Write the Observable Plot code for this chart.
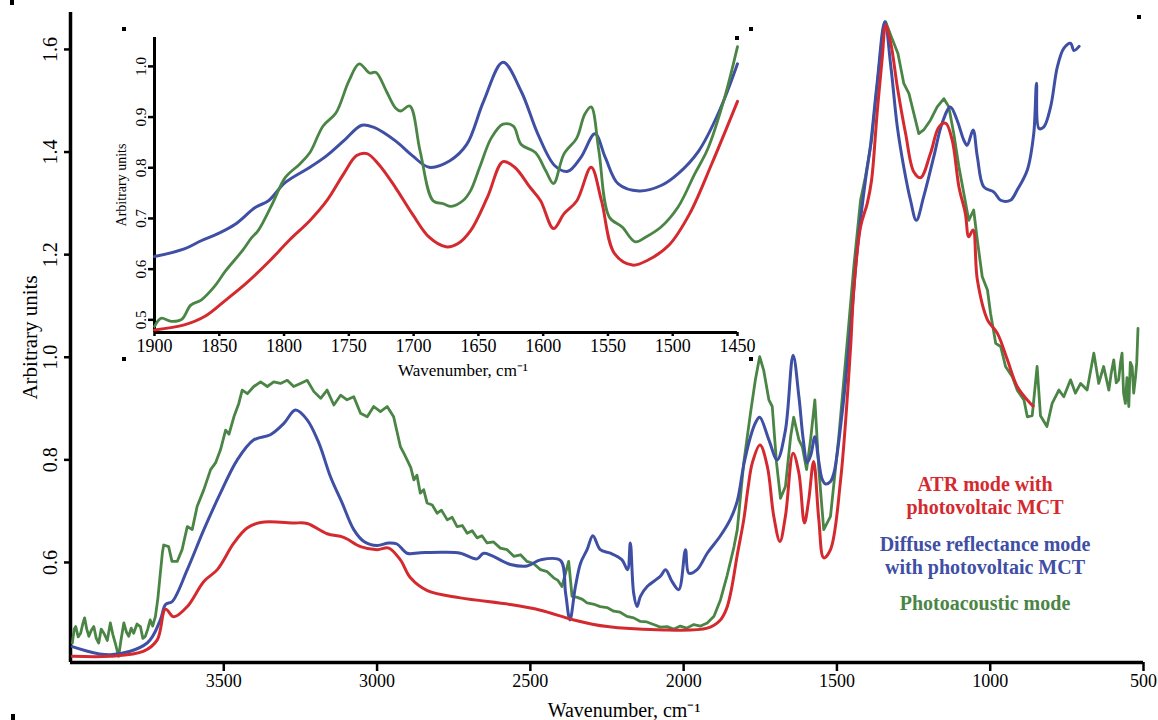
<!DOCTYPE html>
<html><head><meta charset="utf-8">
<script src="https://cdn.jsdelivr.net/npm/d3@7"></script>
<script src="https://cdn.jsdelivr.net/npm/@observablehq/plot@0.6"></script>
<style>
body{margin:0;background:#fff;}
#wrap{position:relative;width:1158px;height:720px;overflow:hidden;font-family:"Liberation Serif","Times New Roman",serif;background:#fff;}
#main{position:absolute;left:0;top:0;}
#inset{position:absolute;left:100px;top:20px;}
.leg{position:absolute;font-weight:bold;font-size:20px;text-align:center;line-height:23px;width:300px;left:835px;}
.mk{position:absolute;width:4px;height:4px;background:#000;}
</style></head><body>
<div id="wrap">
  <div id="main"></div>
  <div id="inset"></div>
  <div class="leg" style="top:473px;color:#d42a2f">ATR mode with<br>photovoltaic MCT</div>
  <div class="leg" style="top:533px;color:#3e4fa4">Diffuse reflectance mode<br>with photovoltaic MCT</div>
  <div class="leg" style="top:592px;color:#4a8545">Photoacoustic mode</div>
  <div class="mk" style="left:10px;top:0px;height:5px"></div>
  <div class="mk" style="left:1137px;top:15px"></div>
  <div class="mk" style="left:11px;top:714px;height:6px"></div>
  <div class="mk" style="left:122px;top:27px"></div>
  <div class="mk" style="left:749px;top:27px"></div>
  <div class="mk" style="left:122px;top:357px"></div>
  <div class="mk" style="left:749px;top:357px"></div>
  <div class="mk" style="left:735px;top:36px"></div>
</div>
<script>
// ---------- main chart data ----------
const mainXTicks = [3500, 3000, 2500, 2000, 1500, 1000, 500];
const mainYTicks = [0.6, 0.8, 1.0, 1.2, 1.4, 1.6];

const atrWave = [3994,3870,3761,3717,3690,3663,3619,3565,3521,3467,3424,3380,3272,3228,3163,3109,3054,3000,2962,2924,2891,2836,2728,2565,2467,2358,2249,2086,1923,1880,1860,1845,1825,1804,1790,1776,1751,1727,1706,1686,1668,1643,1624,1606,1592,1576,1559,1543,1521,1488,1456,1445,1423,1401,1387,1369,1352,1341,1324,1303,1276,1249,1227,1195,1167,1145,1124,1102,1081,1070,1056,1042,1009,977,944,912,869,860];
const atrValue = [0.417,0.417,0.427,0.449,0.509,0.494,0.514,0.563,0.586,0.638,0.667,0.678,0.677,0.676,0.656,0.649,0.631,0.625,0.628,0.605,0.570,0.545,0.531,0.518,0.507,0.488,0.475,0.469,0.472,0.488,0.510,0.545,0.615,0.683,0.745,0.794,0.829,0.787,0.690,0.641,0.690,0.813,0.774,0.677,0.722,0.797,0.683,0.609,0.625,0.761,1.014,1.131,1.254,1.300,1.345,1.475,1.585,1.647,1.611,1.527,1.436,1.361,1.350,1.397,1.449,1.456,1.423,1.332,1.280,1.235,1.248,1.151,1.073,1.047,0.995,0.943,0.910,0.905];

const drWave = [3994,3870,3750,3707,3690,3668,3619,3565,3511,3456,3402,3348,3304,3266,3228,3190,3152,3114,3076,3043,3000,2962,2935,2902,2859,2783,2728,2674,2652,2565,2511,2467,2402,2385,2371,2353,2336,2315,2296,2272,2239,2201,2183,2174,2163,2152,2141,2119,2076,2059,2038,2016,1994,1983,1956,1923,1880,1847,1825,1804,1782,1766,1752,1722,1695,1668,1643,1624,1610,1597,1585,1572,1560,1548,1537,1521,1510,1483,1456,1434,1407,1391,1369,1344,1324,1303,1282,1260,1241,1217,1184,1157,1130,1108,1086,1075,1056,1042,1021,988,966,934,912,879,858,849,841,825,803,781,760,738,727,710];
const drValue = [0.436,0.420,0.443,0.488,0.518,0.524,0.586,0.664,0.735,0.800,0.839,0.849,0.871,0.897,0.878,0.833,0.767,0.716,0.664,0.641,0.633,0.638,0.636,0.618,0.619,0.620,0.618,0.607,0.618,0.596,0.593,0.605,0.604,0.540,0.488,0.553,0.599,0.625,0.652,0.625,0.618,0.605,0.586,0.638,0.540,0.514,0.534,0.553,0.573,0.586,0.563,0.547,0.625,0.579,0.586,0.618,0.652,0.685,0.720,0.790,0.845,0.872,0.883,0.839,0.800,0.858,1.004,0.923,0.840,0.795,0.810,0.845,0.800,0.762,0.753,0.758,0.774,0.891,1.053,1.209,1.345,1.410,1.534,1.654,1.566,1.449,1.371,1.306,1.267,1.313,1.391,1.456,1.488,1.462,1.423,1.413,1.443,1.391,1.332,1.322,1.306,1.306,1.326,1.365,1.436,1.534,1.446,1.449,1.488,1.566,1.602,1.612,1.598,1.606];

const paWave = [3994,3988,3983,3975,3967,3960,3954,3947,3940,3932,3924,3916,3908,3900,3891,3880,3870,3862,3854,3843,3835,3826,3818,3810,3802,3794,3783,3772,3764,3756,3748,3740,3732,3723,3715,3707,3700,3696,3680,3669,3652,3636,3619,3603,3587,3565,3543,3527,3511,3494,3483,3467,3451,3440,3423,3402,3380,3358,3337,3315,3293,3272,3250,3228,3206,3184,3163,3141,3119,3098,3076,3054,3032,3011,2989,2967,2946,2924,2912,2902,2890,2880,2870,2859,2848,2837,2820,2804,2790,2771,2755,2739,2722,2706,2690,2674,2658,2641,2620,2598,2576,2554,2532,2511,2490,2467,2445,2424,2410,2397,2375,2364,2347,2330,2315,2295,2272,2250,2228,2207,2185,2163,2141,2120,2098,2076,2054,2033,2011,1990,1967,1945,1923,1901,1880,1858,1836,1825,1804,1782,1766,1752,1739,1722,1711,1697,1684,1668,1651,1641,1624,1613,1599,1586,1572,1559,1543,1521,1494,1463,1445,1423,1407,1387,1366,1350,1341,1322,1301,1282,1265,1249,1233,1217,1195,1173,1151,1135,1119,1102,1086,1070,1054,1042,1026,1009,999,982,966,950,928,912,890,879,863,847,836,815,798,776,760,738,722,705,684,662,646,630,613,605,597,589,581,575,570,565,559,554,548,543,537,532,526,522,518];
const paValue = [0.443,0.470,0.475,0.455,0.462,0.480,0.492,0.470,0.456,0.468,0.475,0.452,0.443,0.470,0.462,0.448,0.482,0.460,0.443,0.417,0.450,0.482,0.465,0.456,0.472,0.462,0.480,0.475,0.452,0.456,0.470,0.488,0.476,0.495,0.530,0.579,0.620,0.634,0.631,0.602,0.602,0.625,0.670,0.664,0.709,0.742,0.781,0.794,0.819,0.858,0.850,0.884,0.910,0.936,0.929,0.943,0.952,0.943,0.952,0.949,0.955,0.943,0.949,0.955,0.933,0.920,0.936,0.907,0.926,0.917,0.923,0.891,0.884,0.904,0.894,0.904,0.884,0.826,0.812,0.800,0.785,0.761,0.770,0.735,0.742,0.716,0.712,0.696,0.702,0.683,0.688,0.670,0.672,0.657,0.662,0.648,0.652,0.638,0.640,0.628,0.625,0.612,0.615,0.602,0.598,0.586,0.582,0.570,0.565,0.553,0.602,0.534,0.532,0.528,0.521,0.519,0.514,0.512,0.505,0.503,0.495,0.492,0.485,0.484,0.479,0.474,0.475,0.470,0.476,0.472,0.479,0.476,0.482,0.495,0.527,0.575,0.630,0.664,0.794,0.891,0.956,1.001,0.975,0.917,0.904,0.794,0.725,0.748,0.845,0.883,0.839,0.826,0.781,0.839,0.917,0.781,0.664,0.690,0.845,1.053,1.176,1.306,1.352,1.423,1.546,1.637,1.654,1.624,1.592,1.534,1.514,1.475,1.436,1.443,1.462,1.488,1.504,1.488,1.436,1.371,1.319,1.267,1.287,1.228,1.157,1.131,1.086,1.027,1.021,0.982,0.962,0.936,0.917,0.884,0.886,0.982,0.886,0.865,0.910,0.936,0.923,0.956,0.930,0.949,0.936,1.008,0.949,0.982,0.936,0.970,0.995,0.950,0.956,0.990,1.008,0.930,0.910,0.960,0.904,0.990,0.982,0.930,0.962,0.990,1.056];

// ---------- inset data ----------
const insetXTicks = [1900,1850,1800,1750,1700,1650,1600,1550,1500,1450];
const insetYTicks = [0.5,0.6,0.7,0.8,0.9,1.0];

const atrInsetWave = [1900,1877,1861,1845,1828,1812,1796,1780,1767,1754,1744,1736,1727,1714,1701,1688,1675,1666,1656,1643,1631,1622,1610,1602,1592,1584,1574,1563,1555,1545,1531,1519,1503,1487,1470,1450];
const atrInsetValue = [0.480,0.490,0.507,0.539,0.575,0.614,0.657,0.696,0.735,0.788,0.824,0.828,0.807,0.761,0.709,0.663,0.644,0.650,0.676,0.742,0.812,0.801,0.761,0.735,0.680,0.709,0.735,0.801,0.735,0.631,0.608,0.618,0.647,0.709,0.807,0.931];

const drInsetWave = [1900,1877,1864,1851,1838,1822,1812,1799,1780,1767,1754,1740,1731,1714,1701,1688,1672,1659,1646,1631,1617,1604,1591,1581,1571,1560,1552,1542,1526,1509,1496,1480,1464,1450];
const drInsetValue = [0.625,0.640,0.656,0.670,0.688,0.722,0.735,0.771,0.801,0.824,0.853,0.884,0.880,0.853,0.824,0.801,0.814,0.846,0.931,1.008,0.951,0.866,0.804,0.793,0.820,0.867,0.820,0.768,0.754,0.765,0.788,0.833,0.912,1.005];

const paInsetWave = [1900,1895,1887,1879,1872,1864,1854,1845,1832,1825,1820,1809,1799,1788,1780,1770,1760,1750,1742,1734,1729,1721,1714,1710,1703,1695,1685,1677,1671,1662,1656,1649,1640,1631,1623,1617,1606,1598,1592,1584,1574,1568,1563,1557,1549,1539,1529,1521,1509,1496,1483,1473,1460,1450];
const paInsetValue = [0.487,0.503,0.497,0.501,0.529,0.539,0.565,0.597,0.637,0.662,0.676,0.729,0.781,0.807,0.830,0.882,0.908,0.971,1.005,0.987,0.988,0.951,0.918,0.912,0.922,0.833,0.735,0.729,0.724,0.735,0.755,0.801,0.859,0.886,0.882,0.846,0.830,0.794,0.769,0.827,0.859,0.905,0.920,0.833,0.703,0.683,0.654,0.663,0.683,0.722,0.788,0.837,0.938,1.039];

const RED = "#d42a2f", BLUE = "#3e4fa4", GREEN = "#4a8545";
const toRows = (ws, vs) => ws.map((w, i) => ({w, v: vs[i]}));
const FONT = "'Liberation Serif', 'Times New Roman', serif";

const mainYMin = 0.405, mainYMax = 1.672;
const main = Plot.plot({
  width: 1158, height: 720,
  marginLeft: 70, marginRight: 15, marginTop: 12, marginBottom: 58,
  x: {domain: [4000, 500]},
  y: {domain: [mainYMin, mainYMax]},
  style: {fontFamily: FONT, background: "transparent", color: "#000", overflow: "visible"},
  marks: [
    Plot.axisX({ticks: mainXTicks, tickFormat: d => String(d), tickSize: 9, tickPadding: 3, fontSize: 18, strokeWidth: 2.5, label: null}),
    Plot.axisY({ticks: mainYTicks, tickFormat: d => d.toFixed(1), tickSize: 6, tickPadding: 8, tickRotate: -90, fontSize: 20, strokeWidth: 2.5, label: null}),
    Plot.ruleX([4000], {strokeWidth: 3.5}),
    Plot.ruleY([mainYMin], {strokeWidth: 3.5}),
    Plot.line(toRows(paWave, paValue), {x: "w", y: "v", stroke: GREEN, strokeWidth: 2.8}),
    Plot.line(toRows(drWave, drValue), {x: "w", y: "v", stroke: BLUE, strokeWidth: 3, curve: "catmull-rom"}),
    Plot.line(toRows(atrWave, atrValue), {x: "w", y: "v", stroke: RED, strokeWidth: 3, curve: "catmull-rom"}),
    Plot.text(["Arbitrary units"], {frameAnchor: "left", textAnchor: "middle", rotate: -90, dx: -40, fontSize: 21}),
    Plot.text(["Wavenumber, cm\u207B\u00B9"], {frameAnchor: "bottom", textAnchor: "middle", dy: 54, dx: 17, fontSize: 20})
  ]
});
document.getElementById("main").appendChild(main);

const insetYMin = 0.475, insetYMax = 1.057;
const inset = Plot.plot({
  width: 660, height: 360,
  marginLeft: 54, marginRight: 23, marginTop: 17, marginBottom: 48,
  x: {domain: [1900, 1450]},
  y: {domain: [insetYMin, insetYMax]},
  style: {fontFamily: FONT, background: "transparent", color: "#000", overflow: "visible"},
  marks: [
    Plot.axisX({ticks: insetXTicks, tickFormat: d => String(d), tickSize: 4, tickPadding: 3, fontSize: 18, strokeWidth: 2.5, label: null}),
    Plot.axisY({ticks: insetYTicks, tickFormat: d => d.toFixed(1), tickSize: 6, tickPadding: 3, tickRotate: -90, fontSize: 15, strokeWidth: 2.5, label: null}),
    Plot.ruleX([1900], {strokeWidth: 3}),
    Plot.ruleY([insetYMin], {strokeWidth: 3}),
    Plot.line(toRows(drInsetWave, drInsetValue), {x: "w", y: "v", stroke: BLUE, strokeWidth: 3, curve: "catmull-rom"}),
    Plot.line(toRows(atrInsetWave, atrInsetValue), {x: "w", y: "v", stroke: RED, strokeWidth: 3, curve: "catmull-rom"}),
    Plot.line(toRows(paInsetWave, paInsetValue), {x: "w", y: "v", stroke: GREEN, strokeWidth: 2.8, curve: "catmull-rom"}),
    Plot.text(["Arbitrary units"], {frameAnchor: "left", textAnchor: "middle", rotate: -90, dx: -33, fontSize: 14}),
    Plot.text(["Wavenumber, cm\u207B\u00B9"], {frameAnchor: "bottom", textAnchor: "middle", dy: 43, dx: 17, fontSize: 17})
  ]
});
document.getElementById("inset").appendChild(inset);
</script>
</body></html>
